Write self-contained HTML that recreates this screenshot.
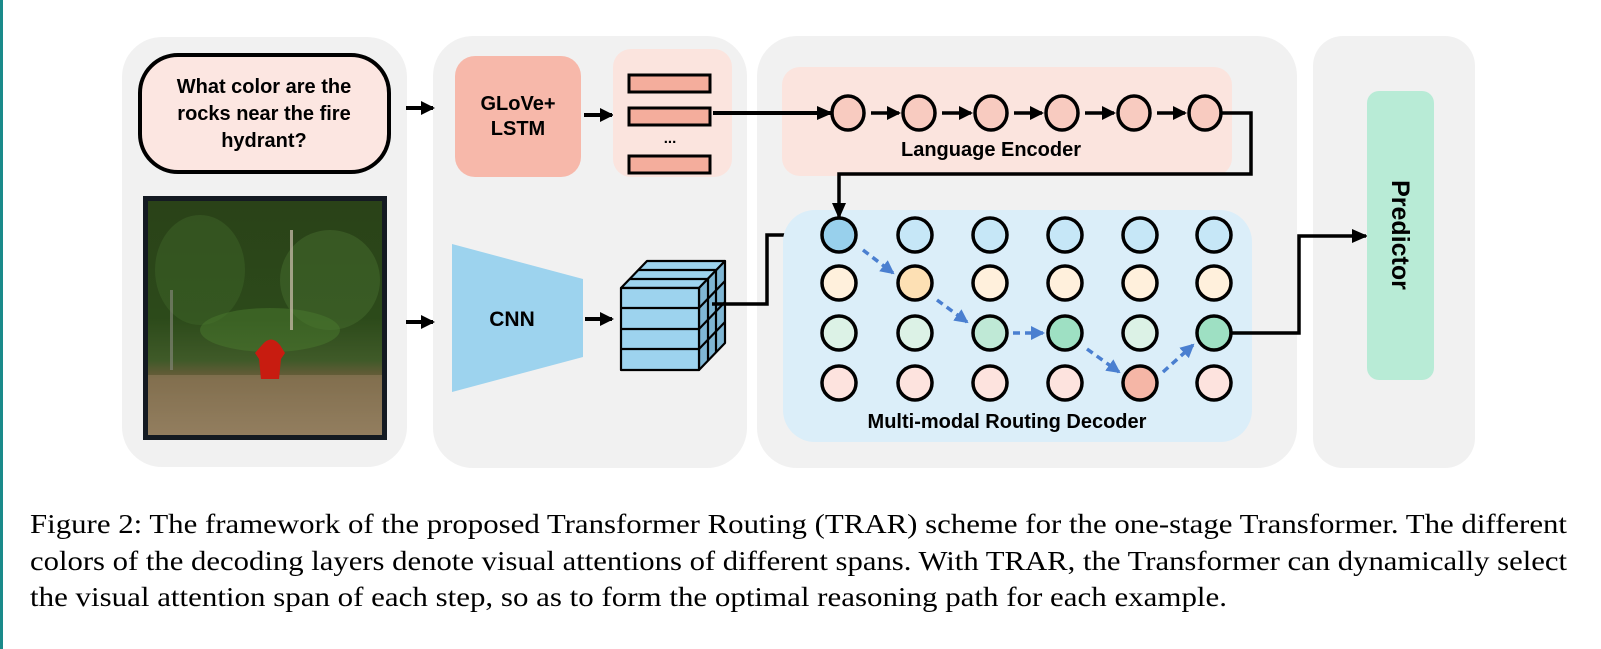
<!DOCTYPE html>
<html><head><meta charset="utf-8"><style>
html,body{margin:0;padding:0;background:#fff;}
svg{display:block;}
</style></head><body>
<svg width="1601" height="649" viewBox="0 0 1601 649" xmlns="http://www.w3.org/2000/svg" font-family="Liberation Sans, sans-serif">
<defs>
<marker id="ah" markerWidth="16" markerHeight="16" refX="14" refY="8" orient="auto" markerUnits="userSpaceOnUse"><path d="M0,1 L16,8 L0,15 z" fill="#000"/></marker>
<marker id="sh" markerWidth="14" markerHeight="14" refX="12" refY="7" orient="auto" markerUnits="userSpaceOnUse"><path d="M0,0 L14,7 L0,14 z" fill="#000"/></marker>
<marker id="bh" markerWidth="14" markerHeight="14" refX="12" refY="7" orient="auto" markerUnits="userSpaceOnUse"><path d="M0,0 L14,7 L0,14 z" fill="#4a7fd0"/></marker>
<linearGradient id="forest" x1="0" y1="0" x2="0" y2="1">
<stop offset="0" stop-color="#2a4218"/><stop offset="0.5" stop-color="#2c4a1a"/><stop offset="0.68" stop-color="#3f5a28"/><stop offset="0.76" stop-color="#6e5c3c"/><stop offset="1" stop-color="#8c775a"/></linearGradient>
</defs>
<rect x="0" y="0" width="3" height="649" fill="#1a8a8a"/>
<!-- panels -->
<rect x="122" y="37" width="285" height="430" rx="40" fill="#f1f1f1"/>
<rect x="433" y="36" width="314" height="432" rx="40" fill="#f1f1f1"/>
<rect x="757" y="36" width="540" height="432" rx="40" fill="#f1f1f1"/>
<rect x="1313" y="36" width="162" height="432" rx="30" fill="#f1f1f1"/>
<!-- question -->
<rect x="140" y="55" width="249" height="117" rx="38" fill="#fce6e1" stroke="#000" stroke-width="4"/>
<g font-weight="bold" font-size="20" text-anchor="middle" fill="#000">
<text x="264" y="93">What color are the</text>
<text x="264" y="120">rocks near the fire</text>
<text x="264" y="147">hydrant?</text>
</g>
<!-- image -->
<rect x="143" y="196" width="244" height="244" fill="#141a22"/>
<rect x="148" y="201" width="234" height="234" fill="url(#forest)"/>
<ellipse cx="200" cy="270" rx="45" ry="55" fill="#3e6328" opacity="0.5"/>
<ellipse cx="330" cy="280" rx="50" ry="50" fill="#4a7230" opacity="0.45"/>
<ellipse cx="270" cy="330" rx="70" ry="22" fill="#4a7a2e" opacity="0.5"/>
<rect x="170" y="290" width="3" height="80" fill="#8a8a80" opacity="0.6"/>
<rect x="290" y="230" width="3" height="100" fill="#d0c0b0" opacity="0.7"/>
<rect x="148" y="375" width="234" height="60" fill="#9c8866" opacity="0.45"/>
<path d="M262,345 q9,-11 18,0 l5,8 l-4,6 l-2,20 l-18,0 l-2,-20 l-4,-6z" fill="#c81c10"/>
<!-- arrows left -->
<line x1="406" y1="108" x2="433" y2="108" stroke="#000" stroke-width="4" marker-end="url(#sh)"/>
<line x1="406" y1="322" x2="433" y2="322" stroke="#000" stroke-width="4" marker-end="url(#sh)"/>
<!-- GLoVe -->
<rect x="455" y="56" width="126" height="121" rx="20" fill="#f7b8aa"/>
<g font-weight="bold" font-size="20" text-anchor="middle"><text x="518" y="110">GLoVe+</text><text x="518" y="135">LSTM</text></g>
<line x1="584" y1="115" x2="612" y2="115" stroke="#000" stroke-width="4" marker-end="url(#sh)"/>
<rect x="613" y="49" width="119" height="128" rx="18" fill="#fbe4de"/>
<g fill="#f4ad9c" stroke="#000" stroke-width="3">
<rect x="629" y="75" width="81" height="17"/><rect x="629" y="108" width="81" height="17"/><rect x="629" y="156" width="81" height="17"/>
</g>
<text x="670" y="143" font-weight="bold" font-size="15" text-anchor="middle">...</text>
<!-- CNN -->
<polygon points="452,244 583,279 583,357 452,392" fill="#9dd3ee"/>
<text x="512" y="326" font-weight="bold" font-size="21" text-anchor="middle">CNN</text>
<line x1="585" y1="319" x2="612" y2="319" stroke="#000" stroke-width="4" marker-end="url(#sh)"/>
<!-- cube -->
<g stroke="#000" stroke-width="2.2" fill="#9dd3ee" stroke-linejoin="round">
<polygon points="621,288 647,261 725,261 699,288"/>
<polygon points="699,288 725,261 725,343 699,370" fill="#7fb6d4"/>
<rect x="621" y="288" width="78" height="82"/>
<line x1="621" y1="308" x2="699" y2="308"/><line x1="621" y1="329" x2="699" y2="329"/><line x1="621" y1="349" x2="699" y2="349"/>
<line x1="630" y1="279" x2="708" y2="279"/><line x1="638" y1="270" x2="716" y2="270"/>
<line x1="708" y1="279" x2="708" y2="361"/><line x1="716" y1="270" x2="716" y2="352"/>
<line x1="699" y1="308" x2="725" y2="281"/><line x1="699" y1="329" x2="725" y2="302"/><line x1="699" y1="349" x2="725" y2="322"/>
</g>
<!-- cube to decoder -->
<polyline points="712,304 767,304 767,235 821,235" fill="none" stroke="#000" stroke-width="3.5" marker-end="url(#ah)"/>
<!-- language encoder -->
<rect x="782" y="67" width="450" height="109" rx="18" fill="#fbe4de"/>
<line x1="713" y1="113" x2="831" y2="113" stroke="#000" stroke-width="4" marker-end="url(#ah)"/>
<g fill="#f8cbc0" stroke="#000" stroke-width="3.5">
<ellipse cx="848" cy="113" rx="16" ry="17"/><ellipse cx="919" cy="113" rx="16" ry="17"/><ellipse cx="991" cy="113" rx="16" ry="17"/><ellipse cx="1062" cy="113" rx="16" ry="17"/><ellipse cx="1134" cy="113" rx="16" ry="17"/><ellipse cx="1205" cy="113" rx="16" ry="17"/>
</g>
<g stroke="#000" stroke-width="3.5" marker-end="url(#sh)">
<line x1="871" y1="113" x2="899" y2="113"/><line x1="942" y1="113" x2="971" y2="113"/><line x1="1014" y1="113" x2="1042" y2="113"/><line x1="1085" y1="113" x2="1114" y2="113"/><line x1="1157" y1="113" x2="1185" y2="113"/>
</g>
<text x="991" y="156" font-weight="bold" font-size="20" text-anchor="middle">Language Encoder</text>
<!-- decoder -->
<rect x="783" y="210" width="469" height="232" rx="32" fill="#dbeef9"/>
<polyline points="1221,113 1251,113 1251,174 839,174 839,217" fill="none" stroke="#000" stroke-width="3.5" marker-end="url(#ah)"/>
<g stroke="#000" stroke-width="3.5">
<g fill="#c6e7f7">
<ellipse cx="839" cy="235" rx="17" ry="17" fill="#98d0ec"/><ellipse cx="915" cy="235" rx="17" ry="17"/><ellipse cx="990" cy="235" rx="17" ry="17"/><ellipse cx="1065" cy="235" rx="17" ry="17"/><ellipse cx="1140" cy="235" rx="17" ry="17"/><ellipse cx="1214" cy="235" rx="17" ry="17"/>
</g>
<g fill="#fff0dc">
<ellipse cx="839" cy="283" rx="17" ry="17"/><ellipse cx="915" cy="283" rx="17" ry="17" fill="#fde0b4"/><ellipse cx="990" cy="283" rx="17" ry="17"/><ellipse cx="1065" cy="283" rx="17" ry="17"/><ellipse cx="1140" cy="283" rx="17" ry="17"/><ellipse cx="1214" cy="283" rx="17" ry="17"/>
</g>
<g fill="#dcf2e6">
<ellipse cx="839" cy="333" rx="17" ry="17"/><ellipse cx="915" cy="333" rx="17" ry="17"/><ellipse cx="990" cy="333" rx="17" ry="17" fill="#bfe9d6"/><ellipse cx="1065" cy="333" rx="17" ry="17" fill="#9ee0c3"/><ellipse cx="1140" cy="333" rx="17" ry="17"/><ellipse cx="1214" cy="333" rx="17" ry="17" fill="#9ee0c3"/>
</g>
<g fill="#fde3de">
<ellipse cx="839" cy="383" rx="17" ry="17"/><ellipse cx="915" cy="383" rx="17" ry="17"/><ellipse cx="990" cy="383" rx="17" ry="17"/><ellipse cx="1065" cy="383" rx="17" ry="17"/><ellipse cx="1140" cy="383" rx="17" ry="17" fill="#f5b6a6"/><ellipse cx="1214" cy="383" rx="17" ry="17"/>
</g>
</g>
<g stroke="#4a7fd0" stroke-width="3.5" stroke-dasharray="7,5" fill="none" marker-end="url(#bh)">
<line x1="863" y1="250" x2="893" y2="273"/>
<line x1="937" y1="300" x2="967" y2="322"/>
<line x1="1013" y1="333" x2="1043" y2="333"/>
<line x1="1087" y1="349" x2="1119" y2="372"/>
<line x1="1163" y1="372" x2="1193" y2="345"/>
</g>
<text x="1007" y="428" font-weight="bold" font-size="20" text-anchor="middle">Multi-modal Routing Decoder</text>
<polyline points="1231,333 1299,333 1299,236 1366,236" fill="none" stroke="#000" stroke-width="3.5" marker-end="url(#ah)"/>
<!-- predictor -->
<rect x="1367" y="91" width="67" height="289" rx="12" fill="#b8ebd6"/>
<text x="0" y="0" font-weight="bold" font-size="25" text-anchor="middle" transform="translate(1392,235) rotate(90)">Predictor</text>
<!-- caption -->
<g font-family="Liberation Serif, serif" font-size="27" fill="#000">
<text x="30" y="533" textLength="1537" lengthAdjust="spacingAndGlyphs">Figure 2: The framework of the proposed Transformer Routing (TRAR) scheme for the one-stage Transformer. The different</text>
<text x="30" y="570" textLength="1537" lengthAdjust="spacingAndGlyphs">colors of the decoding layers denote visual attentions of different spans. With TRAR, the Transformer can dynamically select</text>
<text x="30" y="606" textLength="1197" lengthAdjust="spacingAndGlyphs">the visual attention span of each step, so as to form the optimal reasoning path for each example.</text>
</g>
</svg>
</body></html>
